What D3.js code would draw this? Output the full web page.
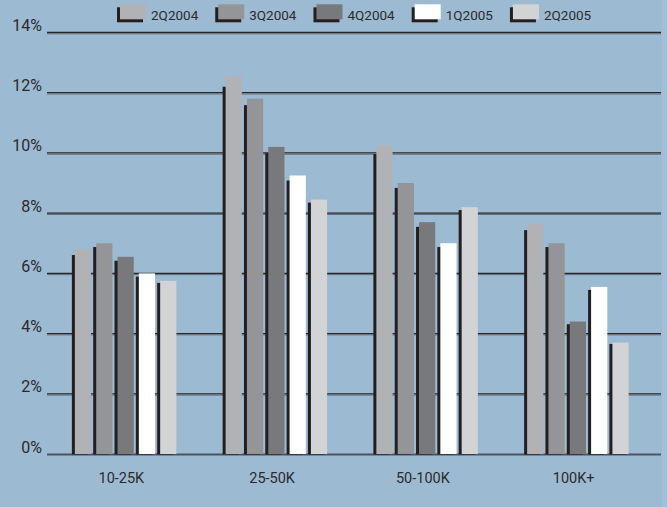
<!DOCTYPE html>
<html>
<head>
<meta charset="utf-8">
<script src="https://cdn.jsdelivr.net/npm/d3@7"></script>
<style>
  html, body { margin: 0; padding: 0; background: #9dbad3; }
  svg { display: block; }
  text { font-family: Roboto, "Liberation Sans", sans-serif; fill: #2b2b2b; }
</style>
</head>
<body>
<svg id="chart" width="667" height="507"></svg>
<script>
// Income brackets on the x axis
const categories = ["10-25K", "25-50K", "50-100K", "100K+"];
// Quarters shown as series
const seriesNames = ["2Q2004", "3Q2004", "4Q2004", "1Q2005", "2Q2005"];
// Percent values per quarter, one entry per income bracket
const q2_2004 = [6.8, 12.55, 10.25, 7.65];
const q3_2004 = [7.0, 11.8, 9.0, 7.0];
const q4_2004 = [6.55, 10.2, 7.7, 4.4];
const q1_2005 = [6.0, 9.25, 7.0, 5.55];
const q2_2005 = [5.75, 8.45, 8.2, 3.7];
const yTicks = [0, 2, 4, 6, 8, 10, 12, 14];

const seriesValues = [q2_2004, q3_2004, q4_2004, q1_2005, q2_2005];
const colors = ["#b1b2b5", "#949598", "#78797c", "#ffffff", "#d2d3d5"];
const shadowColor = "#231f20";
// how far each series' drop shadow sits below the bar top, as a share of bar height
const shadowDrop = [0.028, 0.018, 0.02, 0.018, 0.012];

const svg = d3.select("#chart");
const W = 667, H = 507;

// light edge strip on the right
svg.append("rect").attr("x", 662).attr("y", 0).attr("width", 5).attr("height", H).attr("fill", "#a3c0d8");

const plotLeft = 47, plotRight = 661;
const y = d3.scaleLinear().domain([0, 14]).range([454, 32.5]);
const x = d3.scaleBand().domain(categories).range([50, 653]).padding(0);
const inner = d3.scaleBand().domain(seriesNames).range([-50.5, 51]).paddingInner(0.24);

// grid lines with a lighter under-stroke
const grid = svg.append("g");
yTicks.forEach(t => {
  const yy = y(t);
  if (t === 0) {
    grid.append("line").attr("x1", plotLeft).attr("x2", plotRight)
      .attr("y1", yy + 0.5).attr("y2", yy + 0.5).attr("stroke", "#4d5560").attr("stroke-width", 2);
  } else {
    grid.append("line").attr("x1", plotLeft).attr("x2", plotRight)
      .attr("y1", yy).attr("y2", yy).attr("stroke", "#262626").attr("stroke-width", 1.3);
    grid.append("line").attr("x1", plotLeft).attr("x2", plotRight)
      .attr("y1", yy + 1.3).attr("y2", yy + 1.3).attr("stroke", "#5e6b7a").attr("stroke-width", 1);
  }
});

// y axis labels
svg.append("g").selectAll("text").data(yTicks).join("text")
  .attr("x", 42).attr("y", d => y(d) - 1.5)
  .attr("text-anchor", "end").attr("font-size", 16)
  .text(d => d + "%");

// bars with a dark drop shadow on the left
const groups = svg.append("g").selectAll("g").data(categories).join("g")
  .attr("transform", c => `translate(${x(c) + x.bandwidth() / 2},0)`);

groups.each(function (c, ci) {
  const g = d3.select(this);
  seriesNames.forEach((s, si) => {
    const v = seriesValues[si][ci];
    const top = y(v);
    const h = y(0) - top;
    const bx = inner(s);
    const bw = inner.bandwidth();
    const drop = Math.max(1, h * shadowDrop[si]);
    g.append("rect").attr("x", bx - 3).attr("y", top + drop)
      .attr("width", bw).attr("height", y(0) - top - drop + 0.5).attr("fill", shadowColor);
    g.append("rect").attr("x", bx).attr("y", top)
      .attr("width", bw).attr("height", h).attr("fill", colors[si]);
  });
});

// x axis labels
svg.append("g").selectAll("text").data(categories).join("text")
  .attr("x", c => x(c) + x.bandwidth() / 2 - 4).attr("y", 483)
  .attr("text-anchor", "middle").attr("font-size", 14.5)
  .text(c => c);

// legend
const legend = svg.append("g");
let lx = 120;
seriesNames.forEach((s, i) => {
  const item = legend.append("g").attr("transform", `translate(${lx},0)`);
  item.append("rect").attr("x", -3).attr("y", 7.3).attr("width", 26).attr("height", 15).attr("fill", shadowColor);
  item.append("rect").attr("x", 0).attr("y", 4.3).attr("width", 26).attr("height", 15).attr("fill", colors[i]);
  const t = item.append("text").attr("x", 31).attr("y", 20).attr("font-size", 13.5).text(s);
  lx += 31 + t.node().getComputedTextLength() + 20;
});
</script>
</body>
</html>
